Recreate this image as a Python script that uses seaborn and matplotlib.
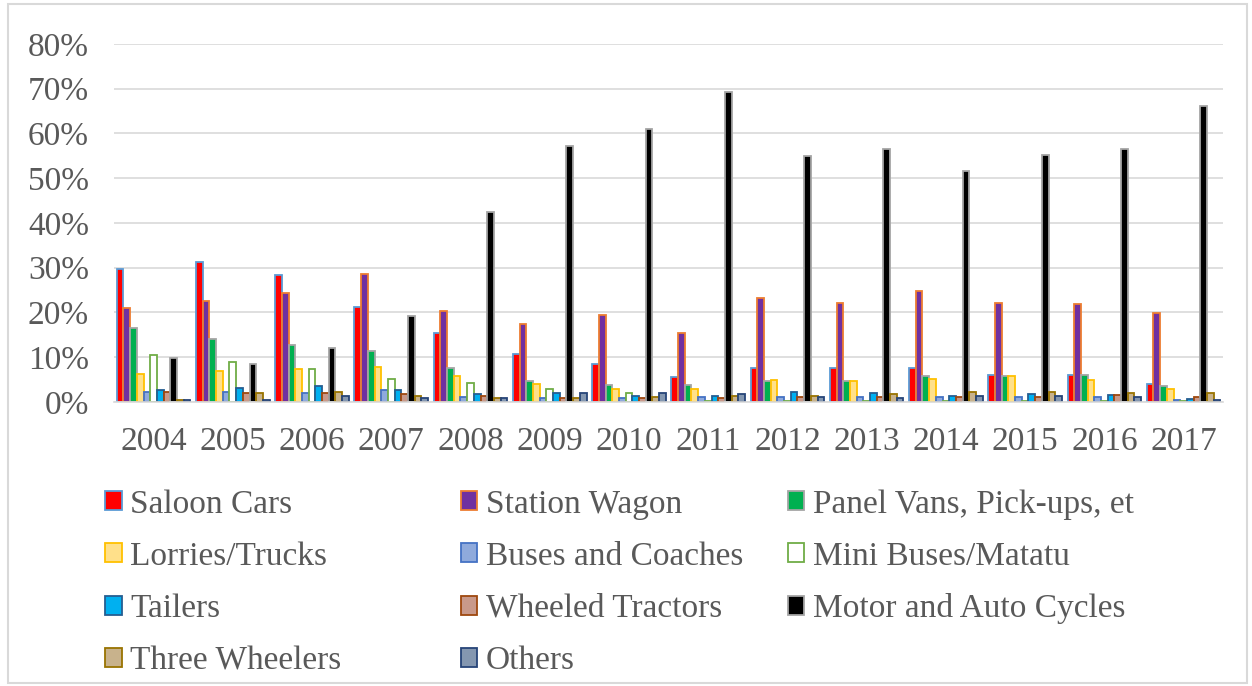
import matplotlib
matplotlib.use("Agg")
import matplotlib.pyplot as plt
from matplotlib.patches import Patch, Rectangle
from matplotlib.ticker import PercentFormatter
import pandas as pd
import seaborn as sns

# Data (shares of newly registered vehicles)
years = ["2004", "2005", "2006", "2007", "2008", "2009", "2010",
         "2011", "2012", "2013", "2014", "2015", "2016", "2017"]

saloon_cars = [29.7, 31.2, 28.3, 21.3, 15.4, 10.8, 8.4, 5.5, 7.5, 7.6, 7.6, 6.1, 6.1, 4.0]
station_wagon = [21.0, 22.5, 24.3, 28.6, 20.4, 17.5, 19.5, 15.4, 23.3, 22.2, 24.8, 22.2, 21.9, 19.8]
panel_vans = [16.5, 14.0, 12.8, 11.3, 7.5, 4.6, 3.8, 3.8, 4.6, 4.6, 5.8, 5.8, 6.1, 3.5]
lorries = [6.2, 7.0, 7.3, 7.8, 5.8, 4.0, 2.8, 2.8, 5.0, 4.6, 5.2, 5.8, 4.9, 2.8]
buses = [2.2, 2.2, 2.0, 2.6, 1.1, 0.8, 0.9, 1.1, 1.1, 1.1, 1.1, 1.1, 1.1, 0.5]
mini_buses = [10.5, 9.0, 7.3, 5.2, 4.3, 2.9, 2.0, 0.2, 0.2, 0.2, 0.2, 0.2, 0.2, 0.2]
tailers = [2.6, 3.2, 3.5, 2.6, 1.7, 2.0, 1.4, 1.4, 2.3, 2.0, 1.3, 1.7, 1.5, 0.7]
tractors = [2.2, 2.0, 2.0, 1.7, 1.4, 0.8, 0.8, 0.8, 1.1, 1.1, 1.1, 1.1, 1.5, 1.2]
motor_cycles = [9.8, 8.5, 12.0, 19.3, 42.5, 57.2, 61.0, 69.2, 55.0, 56.5, 51.6, 55.2, 56.5, 66.2]
three_wheelers = [0.5, 2.0, 2.2, 1.4, 0.8, 0.8, 1.1, 1.4, 1.4, 1.7, 2.2, 2.2, 2.0, 2.0]
others = [0.5, 0.5, 1.3, 0.8, 0.8, 2.0, 2.0, 1.7, 1.1, 0.9, 1.3, 1.3, 1.1, 0.5]

categories = ["Saloon Cars", "Station Wagon", "Panel Vans, Pick-ups, et",
              "Lorries/Trucks", "Buses and Coaches", "Mini Buses/Matatu",
              "Tailers", "Wheeled Tractors", "Motor and Auto Cycles",
              "Three Wheelers", "Others"]
series = [saloon_cars, station_wagon, panel_vans, lorries, buses, mini_buses,
          tailers, tractors, motor_cycles, three_wheelers, others]

# Excel-like fill and edge colours for each series
fills = ["#FF0000", "#7030A0", "#00B050", "#FFE08A", "#8FAADC", "#FFFFFF",
         "#00B0F0", "#C9998A", "#000000", "#C8B28C", "#8497B0"]
edges = ["#5B9BD5", "#ED7D31", "#A5A5A5", "#FFC000", "#4472C4", "#70AD47",
         "#255E91", "#9E480E", "#A5A5A5", "#997300", "#264478"]

rows = []
for cat, vals in zip(categories, series):
    for yr, v in zip(years, vals):
        rows.append({"year": yr, "type": cat, "share": v})
df = pd.DataFrame(rows)

sns.set_style("white")
plt.rcParams["font.family"] = ["Liberation Serif", "DejaVu Serif"]
text_color = "#595959"

fig = plt.figure(figsize=(12.52, 6.86), dpi=100)
ax = fig.add_axes([0.091, 0.414, 0.886, 0.522])

sns.barplot(data=df, x="year", y="share", hue="type", hue_order=categories,
            palette=fills, width=0.93, ax=ax, legend=False, saturation=1)

for container, ec in zip(ax.containers, edges):
    for bar in container:
        bar.set_edgecolor(ec)
        bar.set_linewidth(1.3)

ax.set_ylim(0, 80)
ax.set_xlim(-0.5, len(years) - 0.5)
ax.set_yticks(range(0, 81, 10))
ax.yaxis.set_major_formatter(PercentFormatter(decimals=0))
ax.grid(axis="y", color="#D9D9D9", linewidth=1.2)
ax.set_axisbelow(True)
for s in ["top", "right", "left"]:
    ax.spines[s].set_visible(False)
ax.spines["bottom"].set_color("#D9D9D9")
ax.spines["bottom"].set_linewidth(1.2)
ax.tick_params(axis="both", length=0, labelsize=24, colors=text_color)
ax.tick_params(axis="y", pad=18)
ax.tick_params(axis="x", pad=18)
ax.set_xlabel("")
ax.set_ylabel("")

# Legend laid out in three columns, filled row by row like Excel
handles = [Patch(facecolor=f, edgecolor=e, linewidth=1.3) for f, e in zip(fills, edges)]
col_x = [0.084, 0.368, 0.629]
for c in range(3):
    idx = list(range(c, len(categories), 3))
    leg = fig.legend([handles[i] for i in idx], [categories[i] for i in idx],
                     loc="upper left", bbox_to_anchor=(col_x[c], 0.287),
                     frameon=False, fontsize=24, handlelength=0.5,
                     handleheight=0.5, handletextpad=0.25, labelspacing=0.65,
                     borderaxespad=0, borderpad=0)
    for t in leg.get_texts():
        t.set_color(text_color)

# Light chart-area border
fig.patches.append(Rectangle((0.006, 0.004), 0.99, 0.99, transform=fig.transFigure,
                             fill=False, edgecolor="#D9D9D9", linewidth=1.5))

fig.savefig("out.png", dpi=100)
